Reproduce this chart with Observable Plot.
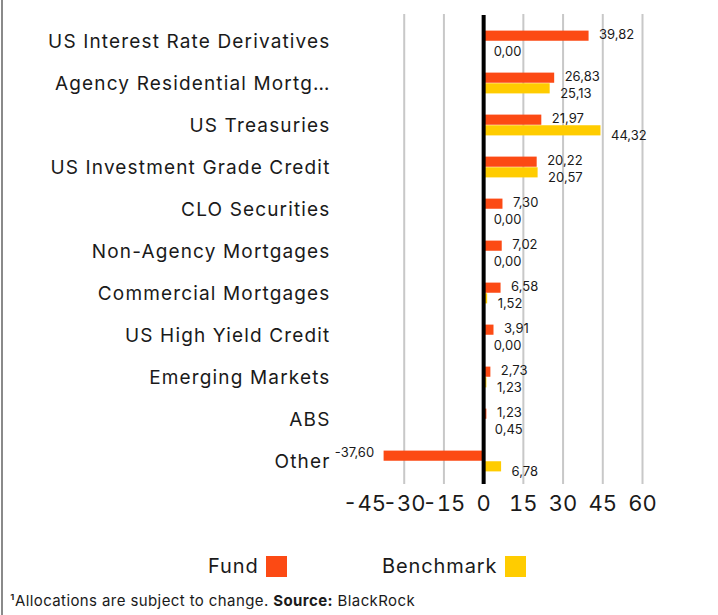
<!DOCTYPE html>
<html>
<head>
<meta charset="utf-8">
<script src="https://cdn.jsdelivr.net/npm/d3@7"></script>
<script src="https://cdn.jsdelivr.net/npm/@observablehq/plot@0.6"></script>
<style>
  html, body { margin: 0; padding: 0; background: #fff; }
  body { width: 718px; height: 615px; position: relative; overflow: hidden; font-family: Inter, "Open Sans", sans-serif; color: #1a1a1a; }
  #border { position: absolute; left: 1px; top: 0; width: 2px; height: 615px; background: #8a8a8a; }
  #chart { position: absolute; left: 0; top: 0; }
  #chart g[aria-label="y-axis tick label"] text { letter-spacing: 1.15px; }
  .leg { position: absolute; font-size: 20px; line-height: 24px; top: 554px; letter-spacing: 0.9px; }
  .sw { position: absolute; width: 21px; height: 21px; top: 556px; }
  #foot { position: absolute; left: 10px; top: 591px; font-size: 15px; line-height: 20px; letter-spacing: 0.4px; }
</style>
</head>
<body>
<div id="border"></div>
<div id="chart"></div>
<div class="leg" style="left:208px">Fund</div>
<div class="sw" id="swFund" style="left:266px"></div>
<div class="leg" style="left:382px">Benchmark</div>
<div class="sw" id="swBench" style="left:505px"></div>
<div id="foot">¹Allocations are subject to change. <b>Source:</b> BlackRock</div>
<script>
const categories = [
  "US Interest Rate Derivatives",
  "Agency Residential Mortg…",
  "US Treasuries",
  "US Investment Grade Credit",
  "CLO Securities",
  "Non-Agency Mortgages",
  "Commercial Mortgages",
  "US High Yield Credit",
  "Emerging Markets",
  "ABS",
  "Other"
];
const fund = [39.82, 26.83, 21.97, 20.22, 7.30, 7.02, 6.58, 3.91, 2.73, 1.23, -37.60];
const benchmark = [0.00, 25.13, 44.32, 20.57, 0.00, 0.00, 1.52, 0.00, 1.23, 0.45, 6.78];
const xTicks = [-45, -30, -15, 0, 15, 30, 45, 60];
const seriesNames = ["Fund", "Benchmark"];

const FUND_COLOR = "#fc4a14";
const BENCH_COLOR = "#ffcc00";
document.getElementById("swFund").style.background = FUND_COLOR;
document.getElementById("swBench").style.background = BENCH_COLOR;

const rows = categories.map((c, i) => ({category: c, fund: fund[i], benchmark: benchmark[i]}));
const fmt = v => v.toFixed(2).replace(".", ",");
const grid = xTicks.filter((t, i) => t !== 0 && i !== 0);

const chart = Plot.plot({
  width: 718,
  height: 530,
  marginLeft: 364,
  marginRight: 76,
  marginTop: 17,
  marginBottom: 46,
  x: {domain: [xTicks[0], xTicks[xTicks.length - 1]]},
  y: {domain: categories, padding: 0},
  style: {fontFamily: "Inter, 'Open Sans', sans-serif", color: "#1a1a1a", background: "transparent"},
  marks: [
    Plot.ruleX(grid, {stroke: "#c8c8c8", strokeWidth: 2, insetTop: -3}),
    Plot.barX(rows, {x: "fund", y: "category", fill: FUND_COLOR, insetTop: 10.6, insetBottom: 21.25}),
    Plot.barX(rows, {x: "benchmark", y: "category", fill: BENCH_COLOR, insetTop: 21.25, insetBottom: 10.6}),
    Plot.ruleX([0], {stroke: "#000", strokeWidth: 4, insetTop: -2}),
    Plot.text(rows.filter(d => d.fund >= 0), {x: "fund", y: "category", text: d => fmt(d.fund), textAnchor: "start", dx: 10, dy: -7, fontSize: 13, fill: "#1a1a1a"}),
    Plot.text(rows.filter(d => d.fund < 0), {x: "fund", y: "category", text: d => fmt(d.fund), textAnchor: "end", dx: -10, dy: -9, fontSize: 13, fill: "#1a1a1a"}),
    Plot.text(rows, {x: "benchmark", y: "category", text: d => fmt(d.benchmark), textAnchor: "start", dx: 10, dy: 10, fontSize: 13, fill: "#1a1a1a"}),
    Plot.axisY({tickSize: 0, tickPadding: 34, fontSize: 19, label: null}),
    Plot.axisX({ticks: xTicks, tickFormat: d => String(d), tickSize: 0, tickPadding: 11, fontSize: 22, label: null})
  ]
});
document.getElementById("chart").appendChild(chart);
</script>
</body>
</html>
